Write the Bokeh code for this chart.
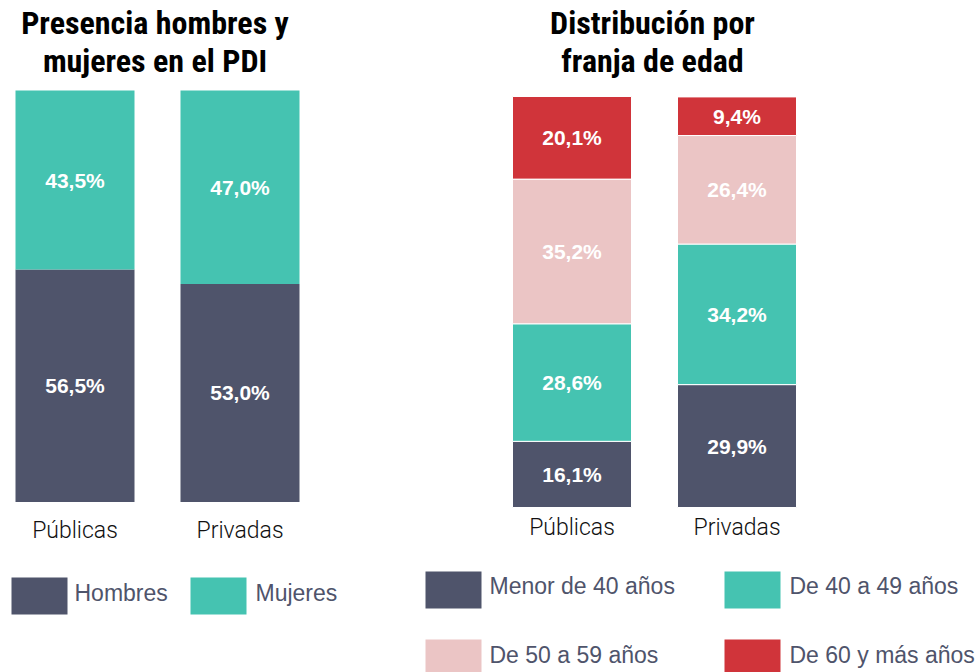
from bokeh.plotting import figure
from bokeh.models import Range1d
from bokeh.layouts import row
from bokeh.embed import file_html
from bokeh.resources import INLINE
from bokeh.core.properties import value
import numpy as np

# ---------------- data ----------------
categories = ["Públicas", "Privadas"]
sex_series = ["Hombres", "Mujeres"]
hombres = [56.5, 53.0]
mujeres = [43.5, 47.0]
age_series = ["Menor de 40 años", "De 40 a 49 años", "De 50 a 59 años", "De 60 y más años"]
menor_40 = [16.1, 29.9]
de_40_49 = [28.6, 34.2]
de_50_59 = [35.2, 26.4]
de_60_mas = [20.1, 9.4]
title_left = ["Presencia hombres y", "mujeres en el PDI"]
title_right = ["Distribución por", "franja de edad"]

DARK = "#4f546b"
TEAL = "#45c3b1"
PINK = "#ebc5c5"
RED = "#d0343a"
TEXT_DARK = "#4f546b"

TITLE_FONT = value("Roboto Condensed")
BODY_FONT = value("Liberation Sans")
LIGHT_FONT = value("Roboto Light")

PX = 165.0          # px per category step
BAR_W = 119.0 / PX  # bar width in category units
FIG_H = 672


def make_fig(width, page_x0, center0_page, bar_top, bar_bottom):
    s = (bar_bottom - bar_top) / 100.0
    xs0 = (page_x0 - center0_page) / PX
    p = figure(width=width, height=FIG_H,
               x_range=Range1d(xs0, xs0 + width / PX),
               y_range=Range1d(-(FIG_H - bar_bottom) / s, 100 + bar_top / s),
               output_backend="svg", toolbar_location=None, min_border=0,
               x_axis_location=None, y_axis_location=None)
    p.grid.visible = False
    p.outline_line_color = None
    p.background_fill_color = "white"
    p.border_fill_color = "white"
    px2x = lambda X: (X - center0_page) / PX
    px2y = lambda Y: (bar_bottom - Y) / s
    return p, px2x, px2y


def fmt(v):
    return f"{v:.1f}".replace(".", ",") + "%"


def stacked(p, series_vals, colors, line_color):
    xs = np.arange(len(categories), dtype=float)
    bottom = np.zeros(len(categories))
    for vals, col in zip(series_vals, colors):
        top = bottom + np.array(vals)
        p.vbar(x=xs, bottom=bottom, top=top, width=BAR_W, fill_color=col,
               line_color=line_color, line_width=1)
        p.text(x=xs, y=(bottom + top) / 2, text=[fmt(v) for v in vals],
               text_align="center", text_baseline="middle", text_color="white",
               text_font=BODY_FONT, text_font_style="bold", text_font_size="21px")
        bottom = top


def titles(p, px2x, px2y, lines, cx):
    for line, mid in zip(lines, [22, 60]):
        p.text(x=[px2x(cx)], y=[px2y(mid)], text=[line], text_align="center",
               text_baseline="middle", text_color="#000000",
               text_font=TITLE_FONT, text_font_style="bold", text_font_size="32px")


def cat_labels(p, px2y, mid):
    p.text(x=np.arange(len(categories)), y=[px2y(mid)] * len(categories), text=categories,
           text_align="center", text_baseline="middle", text_color="#111111",
           text_font=LIGHT_FONT, text_font_size="23px")


def legend_item(p, px2x, px2y, label, color, x0, y0, w, h, tx, tmid):
    p.quad(left=[px2x(x0)], right=[px2x(x0 + w)], top=[px2y(y0)], bottom=[px2y(y0 + h)],
           fill_color=color, line_color=None)
    p.text(x=[px2x(tx)], y=[px2y(tmid)], text=[label], text_align="left",
           text_baseline="middle", text_color=TEXT_DARK,
           text_font=BODY_FONT, text_font_size="23px")


# ---------------- left chart ----------------
p1, lx, ly = make_fig(400, 0, 74.5, 90, 501.5)
stacked(p1, [hombres, mujeres], [DARK, TEAL], None)
titles(p1, lx, ly, title_left, 154.5)
cat_labels(p1, ly, 529.5)
legend_item(p1, lx, ly, sex_series[0], DARK, 11, 577, 56, 37, 74, 592)
legend_item(p1, lx, ly, sex_series[1], TEAL, 190, 577, 56, 37, 255, 592)

# ---------------- right chart ----------------
p2, rx, ry = make_fig(580, 400, 571.5, 96, 507)
stacked(p2, [menor_40, de_40_49, de_50_59, de_60_mas], [DARK, TEAL, PINK, RED], "white")
titles(p2, rx, ry, title_right, 652)
cat_labels(p2, ry, 526.5)
age_colors = [DARK, TEAL, PINK, RED]
pos = [(425, 571, 489, 585), (724, 571, 789, 585), (425, 639, 489, 654), (724, 639, 789, 654)]
for lab, col, (sx, sy, tx, tm) in zip(age_series, age_colors, pos):
    legend_item(p2, rx, ry, lab, col, sx, sy, 56, 37, tx, tm)

layout = row(p1, p2, spacing=0)
open("out.html", "w").write(file_html(layout, INLINE))
